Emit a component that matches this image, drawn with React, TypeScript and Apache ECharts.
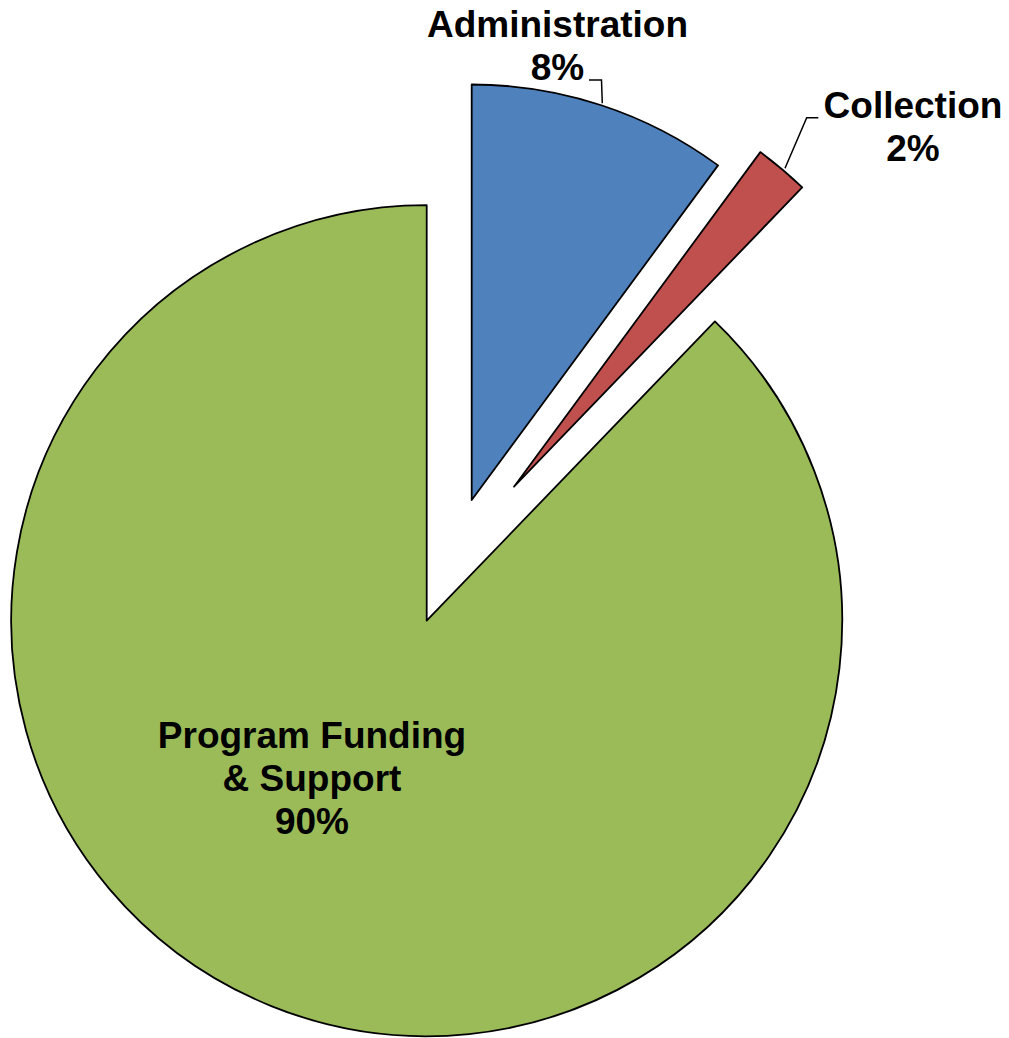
import React, { useEffect, useRef } from "react";
import * as echarts from "echarts";

// Data
const categories = ["Administration", "Collection", "Program Funding & Support"];
const values = [10.1, 2.1, 87.8]; // slice sizes as drawn
const labelTexts = ["Administration\n8%", "Collection\n2%", "Program Funding\n& Support\n90%"];
const colors = ["#4F81BD", "#C0504D", "#9BBB59"];

// Exploded slice centres (px) and label placement
const sliceCenters = [
  [471.7, 500],
  [514, 486.7],
  [426.7, 620.7],
];
const labelPos = [
  [557.5, 46],
  [913, 126.5],
  [312, 778],
];
const labelLines: (number[][] | null)[] = [
  [[602.3, 103.3], [601.5, 80], [589, 80]],
  [[785, 168.3], [806.7, 117.7], [818.3, 117.7]],
  null,
];

export default function App() {
  const ref = useRef<HTMLDivElement>(null);
  useEffect(() => {
    if (!ref.current) return;
    const chart = echarts.init(ref.current, null, { renderer: "svg" });
    const series = categories.map((_, i) => ({
      type: "pie",
      center: sliceCenters[i],
      radius: 415.5,
      startAngle: 90,
      clockwise: true,
      silent: true,
      avoidLabelOverlap: false,
      minAngle: 0,
      emphasis: { disabled: true },
      label: {
        show: true,
        position: "outside",
        formatter: (p: any) => labelTexts[p.dataIndex],
        fontFamily: "'Liberation Sans', Arial, sans-serif",
        fontWeight: "bold",
        fontSize: 37,
        lineHeight: 43,
        color: "#000",
        align: "center",
      },
      labelLine: {
        show: true,
        lineStyle: { color: "#000", width: 1.5 },
      },
      labelLayout: (params: any) => {
        const d = params.dataIndex;
        const out: any = {
          x: labelPos[d][0],
          y: labelPos[d][1],
          align: "center",
          verticalAlign: "middle",
        };
        if (labelLines[d]) out.labelLinePoints = labelLines[d];
        return out;
      },
      data: categories.map((name, j) => ({
        name,
        value: values[j],
        itemStyle:
          j === i
            ? { color: colors[j], borderColor: "#000", borderWidth: 1.8 }
            : { color: "rgba(0,0,0,0)", borderWidth: 0 },
        label: { show: j === i },
        labelLine: { show: j === i && labelLines[j] !== null },
      })),
    }));
    chart.setOption({
      animation: false,
      backgroundColor: "#fff",
      series,
    } as any);
    return () => chart.dispose();
  }, []);
  return (
    <div
      ref={ref}
      style={{ position: "fixed", left: 0, top: 0, width: 1009, height: 1038 }}
    />
  );
}
